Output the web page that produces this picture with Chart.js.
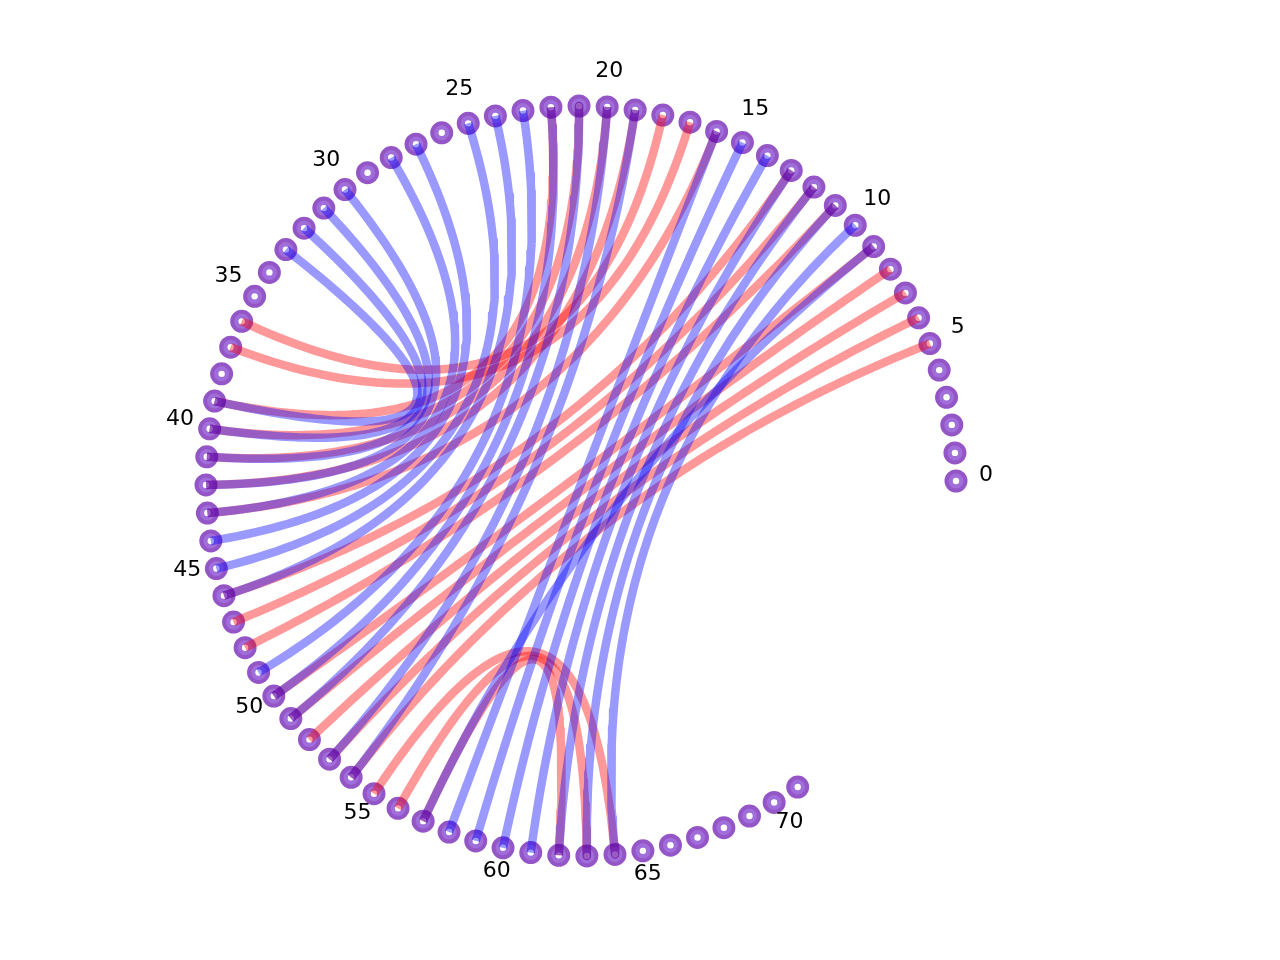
<!DOCTYPE html>
<html>
<head>
<meta charset="utf-8">
<style>
  html, body { margin: 0; padding: 0; background: #ffffff; }
  #wrap { width: 1280px; height: 960px; }
</style>
<script src="https://cdn.jsdelivr.net/npm/chart.js@4.4.1/dist/chart.umd.min.js"></script>
</head>
<body>
<div id="wrap"><canvas id="c" width="1280" height="960"></canvas></div>
<script>
// ---- data ----
const nodeCount = 72;
const nodeIndices = Array.from({length: nodeCount}, (_, i) => i);
const tickLabels = ['0','5','10','15','20','25','30','35','40','45','50','55','60','65','70'];
const redPairs = [
  [5,54],[6,53],[7,52],[8,51],[9,50],[11,48],[12,47],[13,46],[16,43],
  [17,37],[18,36],[19,42],[20,41],[21,40],[22,39],
  [55,64],[56,63],[57,62]
];
const bluePairs = [
  [9,57],[10,64],[11,63],[12,62],[13,61],[14,60],[15,59],[16,58],
  [19,54],[20,53],[21,51],[22,50],[23,49],[24,46],[25,45],[27,44],
  [28,43],[30,42],[31,41],[32,40],[33,39]
];

// ---- layout helpers ----
const STEP = 4.3 * Math.PI / 180;
function pos(i, r) { r = r || 1; return {x: r * Math.cos(i * STEP), y: r * Math.sin(i * STEP)}; }
function curve(a, b) {
  const A = pos(a), B = pos(b), pts = [];
  const n = 80;
  for (let k = 0; k <= n; k++) {
    const t = k / n, u = 1 - t;
    pts.push({x: u*u*A.x + t*t*B.x, y: u*u*A.y + t*t*B.y}); // control point at centre (0,0)
  }
  return pts;
}

const CX = 581, CY = 481, R = 375, W = 1280, H = 960;
const xMin = -CX / R, xMax = (W - CX) / R, yMax = CY / R, yMin = -(H - CY) / R;

const datasets = [];
datasets.push({
  data: nodeIndices.map(i => pos(i)),
  pointRadius: 9.5, pointBorderWidth: 4,
  pointBackgroundColor: 'rgb(160,110,218)', pointBorderColor: 'rgb(148,86,198)',
  showLine: false, order: 10
});
datasets.push({
  data: nodeIndices.map(i => pos(i)),
  pointRadius: 3.2, pointBorderWidth: 0,
  pointBackgroundColor: '#ffffff', pointBorderColor: '#ffffff',
  showLine: false, order: 9
});
redPairs.forEach(p => datasets.push({
  data: curve(p[0], p[1]), showLine: true, pointRadius: 0,
  borderColor: 'rgba(255,0,0,0.4)', borderWidth: 8.5, borderCapStyle: 'butt',
  borderJoinStyle: 'round', tension: 0, fill: false, order: 5
}));
bluePairs.forEach(p => datasets.push({
  data: curve(p[0], p[1]), showLine: true, pointRadius: 0,
  borderColor: 'rgba(0,0,255,0.4)', borderWidth: 8.5, borderCapStyle: 'butt',
  borderJoinStyle: 'round', tension: 0, fill: false, order: 1
}));

const labelPlugin = {
  id: 'nodeLabels',
  afterDatasetsDraw(chart) {
    const ctx = chart.ctx, xs = chart.scales.x, ys = chart.scales.y;
    ctx.save();
    ctx.font = '22px "DejaVu Sans"';
    ctx.fillStyle = '#000';
    ctx.textAlign = 'center';
    ctx.textBaseline = 'alphabetic';
    tickLabels.forEach(l => {
      const p = pos(Number(l), 1.08);
      ctx.fillText(l, xs.getPixelForValue(p.x), ys.getPixelForValue(p.y));
    });
    ctx.restore();
  }
};

new Chart(document.getElementById('c'), {
  type: 'scatter',
  data: { datasets },
  options: {
    responsive: false, animation: false, devicePixelRatio: 1, events: [],
    layout: { padding: 0, autoPadding: false },
    plugins: { legend: { display: false }, tooltip: { enabled: false } },
    scales: {
      x: { type: 'linear', display: false, min: xMin, max: xMax },
      y: { type: 'linear', display: false, min: yMin, max: yMax }
    }
  },
  plugins: [labelPlugin]
});
</script>
</body>
</html>
